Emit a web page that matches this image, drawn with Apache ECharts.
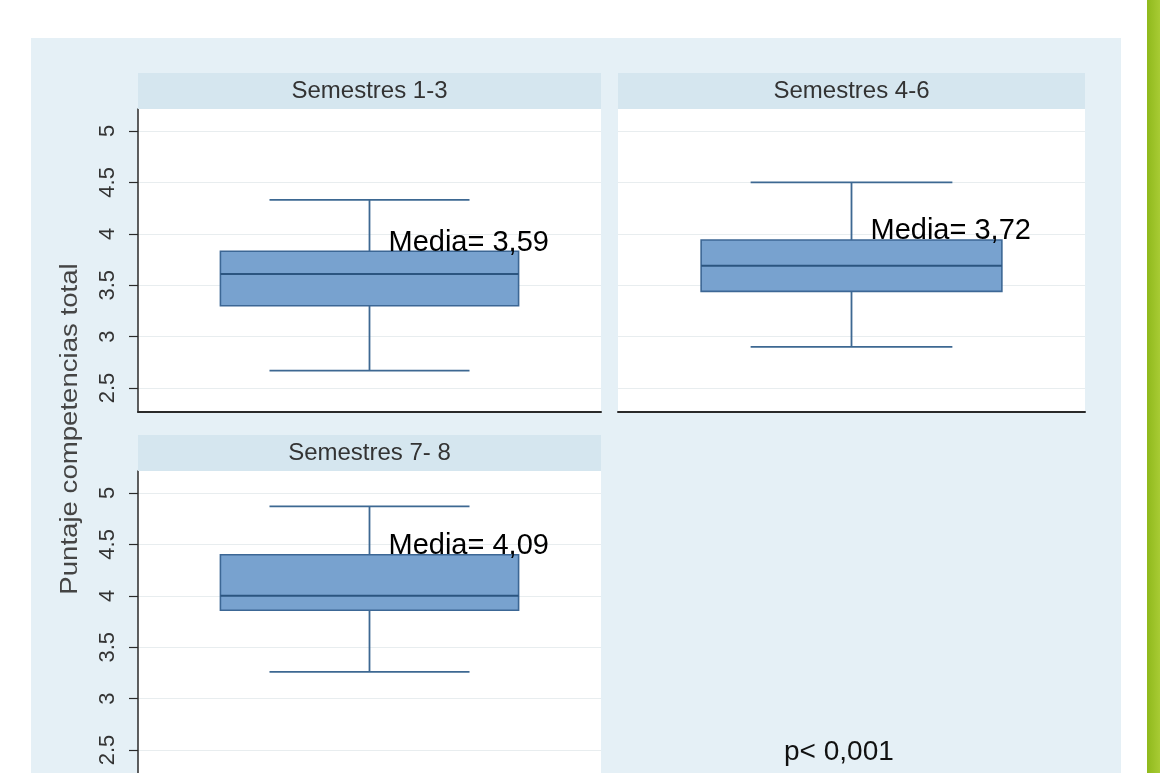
<!DOCTYPE html>
<html><head><meta charset="utf-8">
<script src="https://cdn.jsdelivr.net/npm/echarts@6/dist/echarts.min.js"></script>
<style>html,body{margin:0;padding:0;background:#fff}#c{width:1160px;height:773px}</style>
</head><body><div id="c"></div>
<script>
// ---- data ----
const panels = ['Semestres 1-3', 'Semestres 4-6', 'Semestres 7- 8'];
const lowWhisker = [2.67, 2.90, 3.26];
const q1 = [3.30, 3.44, 3.86];
const median = [3.61, 3.69, 4.00];
const q3 = [3.83, 3.94, 4.40];
const highWhisker = [4.33, 4.50, 4.87];
const meanLabels = ['Media= 3,59', 'Media= 3,72', 'Media= 4,09'];
const yTicks = [2.5, 3, 3.5, 4, 4.5, 5];
const yTitle = 'Puntaje competencias total';
const pText = 'p< 0,001';

// ---- layout ----
const FONT = 'Liberation Sans, Arial, sans-serif';
const gridBoxes = [
  {left: 138, top: 109, width: 463, height: 303},
  {left: 618, top: 109, width: 467, height: 303},
  {left: 138, top: 471, width: 463, height: 303}
];
const showY = [true, false, true];

const chart = echarts.init(document.getElementById('c'), null, {renderer: 'canvas'});

function renderBox(params, api) {
  const x = api.value(0);
  const idx = api.value(6);
  const pLo = api.coord([x, api.value(1)]);
  const pQ1 = api.coord([x, api.value(2)]);
  const pMed = api.coord([x, api.value(3)]);
  const pQ3 = api.coord([x, api.value(4)]);
  const pHi = api.coord([x, api.value(5)]);
  const band = api.size([1, 0])[0];
  const cx = pLo[0];
  const bw = band * 0.322;
  const cw = band * 0.216;
  const wStyle = {stroke: '#3d6892', lineWidth: 1.8};
  return {
    type: 'group',
    children: [
      {type: 'line', shape: {x1: cx, y1: pQ3[1], x2: cx, y2: pHi[1]}, style: wStyle},
      {type: 'line', shape: {x1: cx, y1: pQ1[1], x2: cx, y2: pLo[1]}, style: wStyle},
      {type: 'line', shape: {x1: cx - cw, y1: pHi[1], x2: cx + cw, y2: pHi[1]}, style: wStyle},
      {type: 'line', shape: {x1: cx - cw, y1: pLo[1], x2: cx + cw, y2: pLo[1]}, style: wStyle},
      {type: 'rect', shape: {x: cx - bw, y: pQ3[1], width: 2 * bw, height: pQ1[1] - pQ3[1]},
        style: {fill: '#78a2cf', stroke: '#3c6795', lineWidth: 1.6}},
      {type: 'line', shape: {x1: cx - bw, y1: pMed[1], x2: cx + bw, y2: pMed[1]},
        style: {stroke: '#2b5580', lineWidth: 2}},
      {type: 'text', x: cx + 19, y: pQ3[1] + 6,
        style: {text: meanLabels[idx], font: '29px ' + FONT, fill: '#000',
          align: 'left', verticalAlign: 'bottom'}}
    ]
  };
}

const option = {
  backgroundColor: '#ffffff',
  animation: false,
  grid: gridBoxes.map(g => Object.assign({show: true, backgroundColor: '#ffffff', borderWidth: 0,
    containLabel: false, outerBoundsMode: 'none'}, g)),
  xAxis: panels.map((p, i) => ({
    type: 'category', gridIndex: i, data: [p],
    axisLine: {show: true, onZero: false, lineStyle: {color: '#2a2a2a', width: 2}},
    axisTick: {show: false}, axisLabel: {show: false}, splitLine: {show: false}
  })),
  yAxis: panels.map((p, i) => ({
    type: 'value', gridIndex: i, min: 2.267, max: 5.214,
    axisLine: {show: showY[i], lineStyle: {color: '#2a2a2a', width: 1.5}},
    axisTick: {show: showY[i], customValues: yTicks, length: 9, lineStyle: {color: '#2a2a2a', width: 1.2}},
    axisLabel: {show: showY[i], customValues: yTicks, rotate: 90, margin: 19,
      fontSize: 22, fontFamily: FONT, color: '#333'},
    splitLine: {show: true, lineStyle: {color: '#e8edef', width: 1.2}}
  })),
  series: panels.map((p, i) => ({
    type: 'custom', xAxisIndex: i, yAxisIndex: i,
    renderItem: renderBox,
    encode: {x: 0, y: [1, 2, 3, 4, 5]},
    data: [[0, lowWhisker[i], q1[i], median[i], q3[i], highWhisker[i], i]]
  })),
  graphic: [
    {type: 'rect', z: -100, shape: {x: 31, y: 38, width: 1090, height: 735}, style: {fill: '#e5f0f6'}},
    {type: 'rect', z: 10, shape: {x: 1147, y: 0, width: 13, height: 773},
      style: {fill: new echarts.graphic.LinearGradient(0, 0, 1, 0, [
        {offset: 0, color: '#8fb91c'}, {offset: 1, color: '#a8cb34'}])}},
    ...gridBoxes.map((g, i) => ({
      type: 'rect', z: 5, shape: {x: g.left, y: g.top - 36, width: g.width, height: 36},
      style: {fill: '#d5e6ef'}
    })),
    ...gridBoxes.map((g, i) => ({
      type: 'text', z: 6, x: g.left + g.width / 2, y: g.top - 18,
      style: {text: panels[i], font: '24px ' + FONT, fill: '#333', align: 'center', verticalAlign: 'middle'}
    })),
    {type: 'text', z: 6, x: 71, y: 429, rotation: Math.PI / 2, scaleX: 1.2,
      style: {text: yTitle, font: '23px ' + FONT, fill: '#444', align: 'center', verticalAlign: 'middle'}},
    {type: 'text', z: 6, x: 784, y: 752,
      style: {text: pText, font: '28px ' + FONT, fill: '#111', align: 'left', verticalAlign: 'middle'}}
  ]
};
chart.setOption(option);
</script>
</body></html>
